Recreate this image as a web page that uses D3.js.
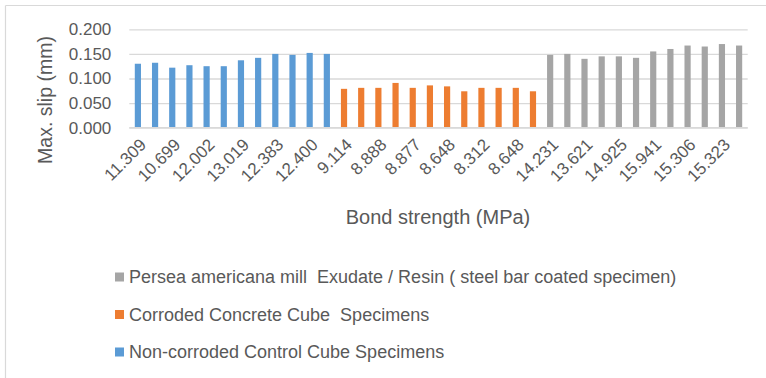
<!DOCTYPE html>
<html>
<head>
<meta charset="utf-8">
<script src="https://cdn.jsdelivr.net/npm/d3@7/dist/d3.min.js"></script>
<style>
  html, body { margin: 0; padding: 0; background: #fff; }
  svg { display: block; }
  text { font-family: "Liberation Sans", Arial, sans-serif; fill: #595959; }
</style>
</head>
<body>
<svg id="chart" width="766" height="378"></svg>
<script>
// Max. slip (mm) per specimen, 12 specimens in each group
const controlSlip  = [0.130, 0.132, 0.122, 0.127, 0.125, 0.125, 0.137, 0.142, 0.150, 0.148, 0.152, 0.150];
const corrodedSlip = [0.079, 0.081, 0.081, 0.091, 0.081, 0.086, 0.084, 0.074, 0.081, 0.081, 0.081, 0.074];
const coatedSlip   = [0.148, 0.150, 0.140, 0.145, 0.145, 0.142, 0.155, 0.160, 0.167, 0.165, 0.170, 0.167];

// Bond strength (MPa) labels shown on every second bar
const bondLabels = ["11.309", "10.699", "12.002", "13.019", "12.383", "12.400",
                    "9.114", "8.888", "8.877", "8.648", "8.312", "8.648",
                    "14.231", "13.621", "14.925", "15.941", "15.306", "15.323"];

const yTicks = [0, 0.05, 0.10, 0.15, 0.20];

const seriesNames = [
  "Non-corroded Control Cube Specimens",
  "Corroded Concrete Cube  Specimens",
  "Persea americana mill  Exudate / Resin ( steel bar coated specimen)"
];
const seriesColors = ["#5b9bd5", "#ed7d31", "#a5a5a5"];
const seriesValues = [controlSlip, corrodedSlip, coatedSlip];

// Flatten into one run of bars, one per specimen
const bars = [];
seriesValues.forEach((vals, s) => vals.forEach(v => bars.push({ s, v, i: bars.length })));

const svg = d3.select("#chart");
const plot = { left: 129.3, right: 747.7, top: 29.3, bottom: 127.7 };

// Frame lines
svg.append("line").attr("x1", 5.5).attr("x2", 766).attr("y1", 5.5).attr("y2", 5.5)
  .attr("stroke", "#d9d9d9").attr("stroke-width", 1.2);
svg.append("line").attr("x1", 5.5).attr("x2", 5.5).attr("y1", 5.5).attr("y2", 378)
  .attr("stroke", "#d9d9d9").attr("stroke-width", 1.2);

const x = d3.scaleBand()
  .domain(bars.map(d => d.i))
  .range([plot.left, plot.right])
  .paddingInner(0.64)
  .paddingOuter(0.32);

const y = d3.scaleLinear().domain([0, 0.2]).range([plot.bottom, plot.top]);

// Gridlines and y labels
const yAxis = d3.axisLeft(y).tickValues(yTicks).tickFormat(d3.format(".3f"))
  .tickSize(-(plot.right - plot.left)).tickPadding(18);
const gy = svg.append("g").attr("transform", `translate(${plot.left},0)`).call(yAxis);
gy.select(".domain").remove();
gy.selectAll(".tick line").attr("stroke", "#d9d9d9").attr("stroke-width", 1.3);
gy.selectAll(".tick text").attr("font-size", 17).style("font-family", "'Liberation Sans', Arial, sans-serif")
  .attr("fill", "#595959");

// Bars
svg.append("g").selectAll("rect").data(bars).join("rect")
  .attr("x", d => x(d.i))
  .attr("width", x.bandwidth())
  .attr("y", d => y(d.v))
  .attr("height", d => y(0) - y(d.v))
  .attr("fill", d => seriesColors[d.s]);

// Baseline
svg.append("line").attr("x1", plot.left).attr("x2", plot.right)
  .attr("y1", y(0)).attr("y2", y(0)).attr("stroke", "#d9d9d9").attr("stroke-width", 1.3);

// X tick labels on every second bar, rotated
const labelled = bars.filter(d => d.i % 2 === 0);
const xAxis = d3.axisBottom(x)
  .tickValues(labelled.map(d => d.i))
  .tickFormat((d) => bondLabels[d / 2])
  .tickSize(0);
const gx = svg.append("g").attr("transform", `translate(0,${plot.bottom})`).call(xAxis);
gx.select(".domain").remove();
gx.selectAll(".tick text")
  .attr("font-size", 17)
  .style("font-family", "'Liberation Sans', Arial, sans-serif")
  .attr("fill", "#595959")
  .attr("text-anchor", "end")
  .attr("x", 0).attr("y", 0).attr("dy", "0.35em")
  .attr("transform", "translate(5,14) rotate(-45)");

// Axis titles
svg.append("text")
  .attr("transform", `translate(52,100) rotate(-90)`)
  .attr("text-anchor", "middle")
  .attr("font-size", 19.5)
  .text("Max. slip (mm)");

svg.append("text")
  .attr("x", 438).attr("y", 224)
  .attr("text-anchor", "middle")
  .attr("font-size", 20)
  .text("Bond strength (MPa)");

// Legend, listed in reverse series order
const legendRows = [2, 1, 0];
const lg = svg.append("g").selectAll("g").data(legendRows).join("g")
  .attr("transform", (s, k) => `translate(115,${277 + k * 37.5})`);
lg.append("rect").attr("x", 0).attr("y", -4.5).attr("width", 9).attr("height", 9)
  .attr("fill", s => seriesColors[s]);
lg.append("text").attr("x", 14).attr("y", 0).attr("dy", "0.35em")
  .attr("font-size", 18)
  .style("white-space", "pre")
  .text(s => seriesNames[s]);
</script>
</body>
</html>
